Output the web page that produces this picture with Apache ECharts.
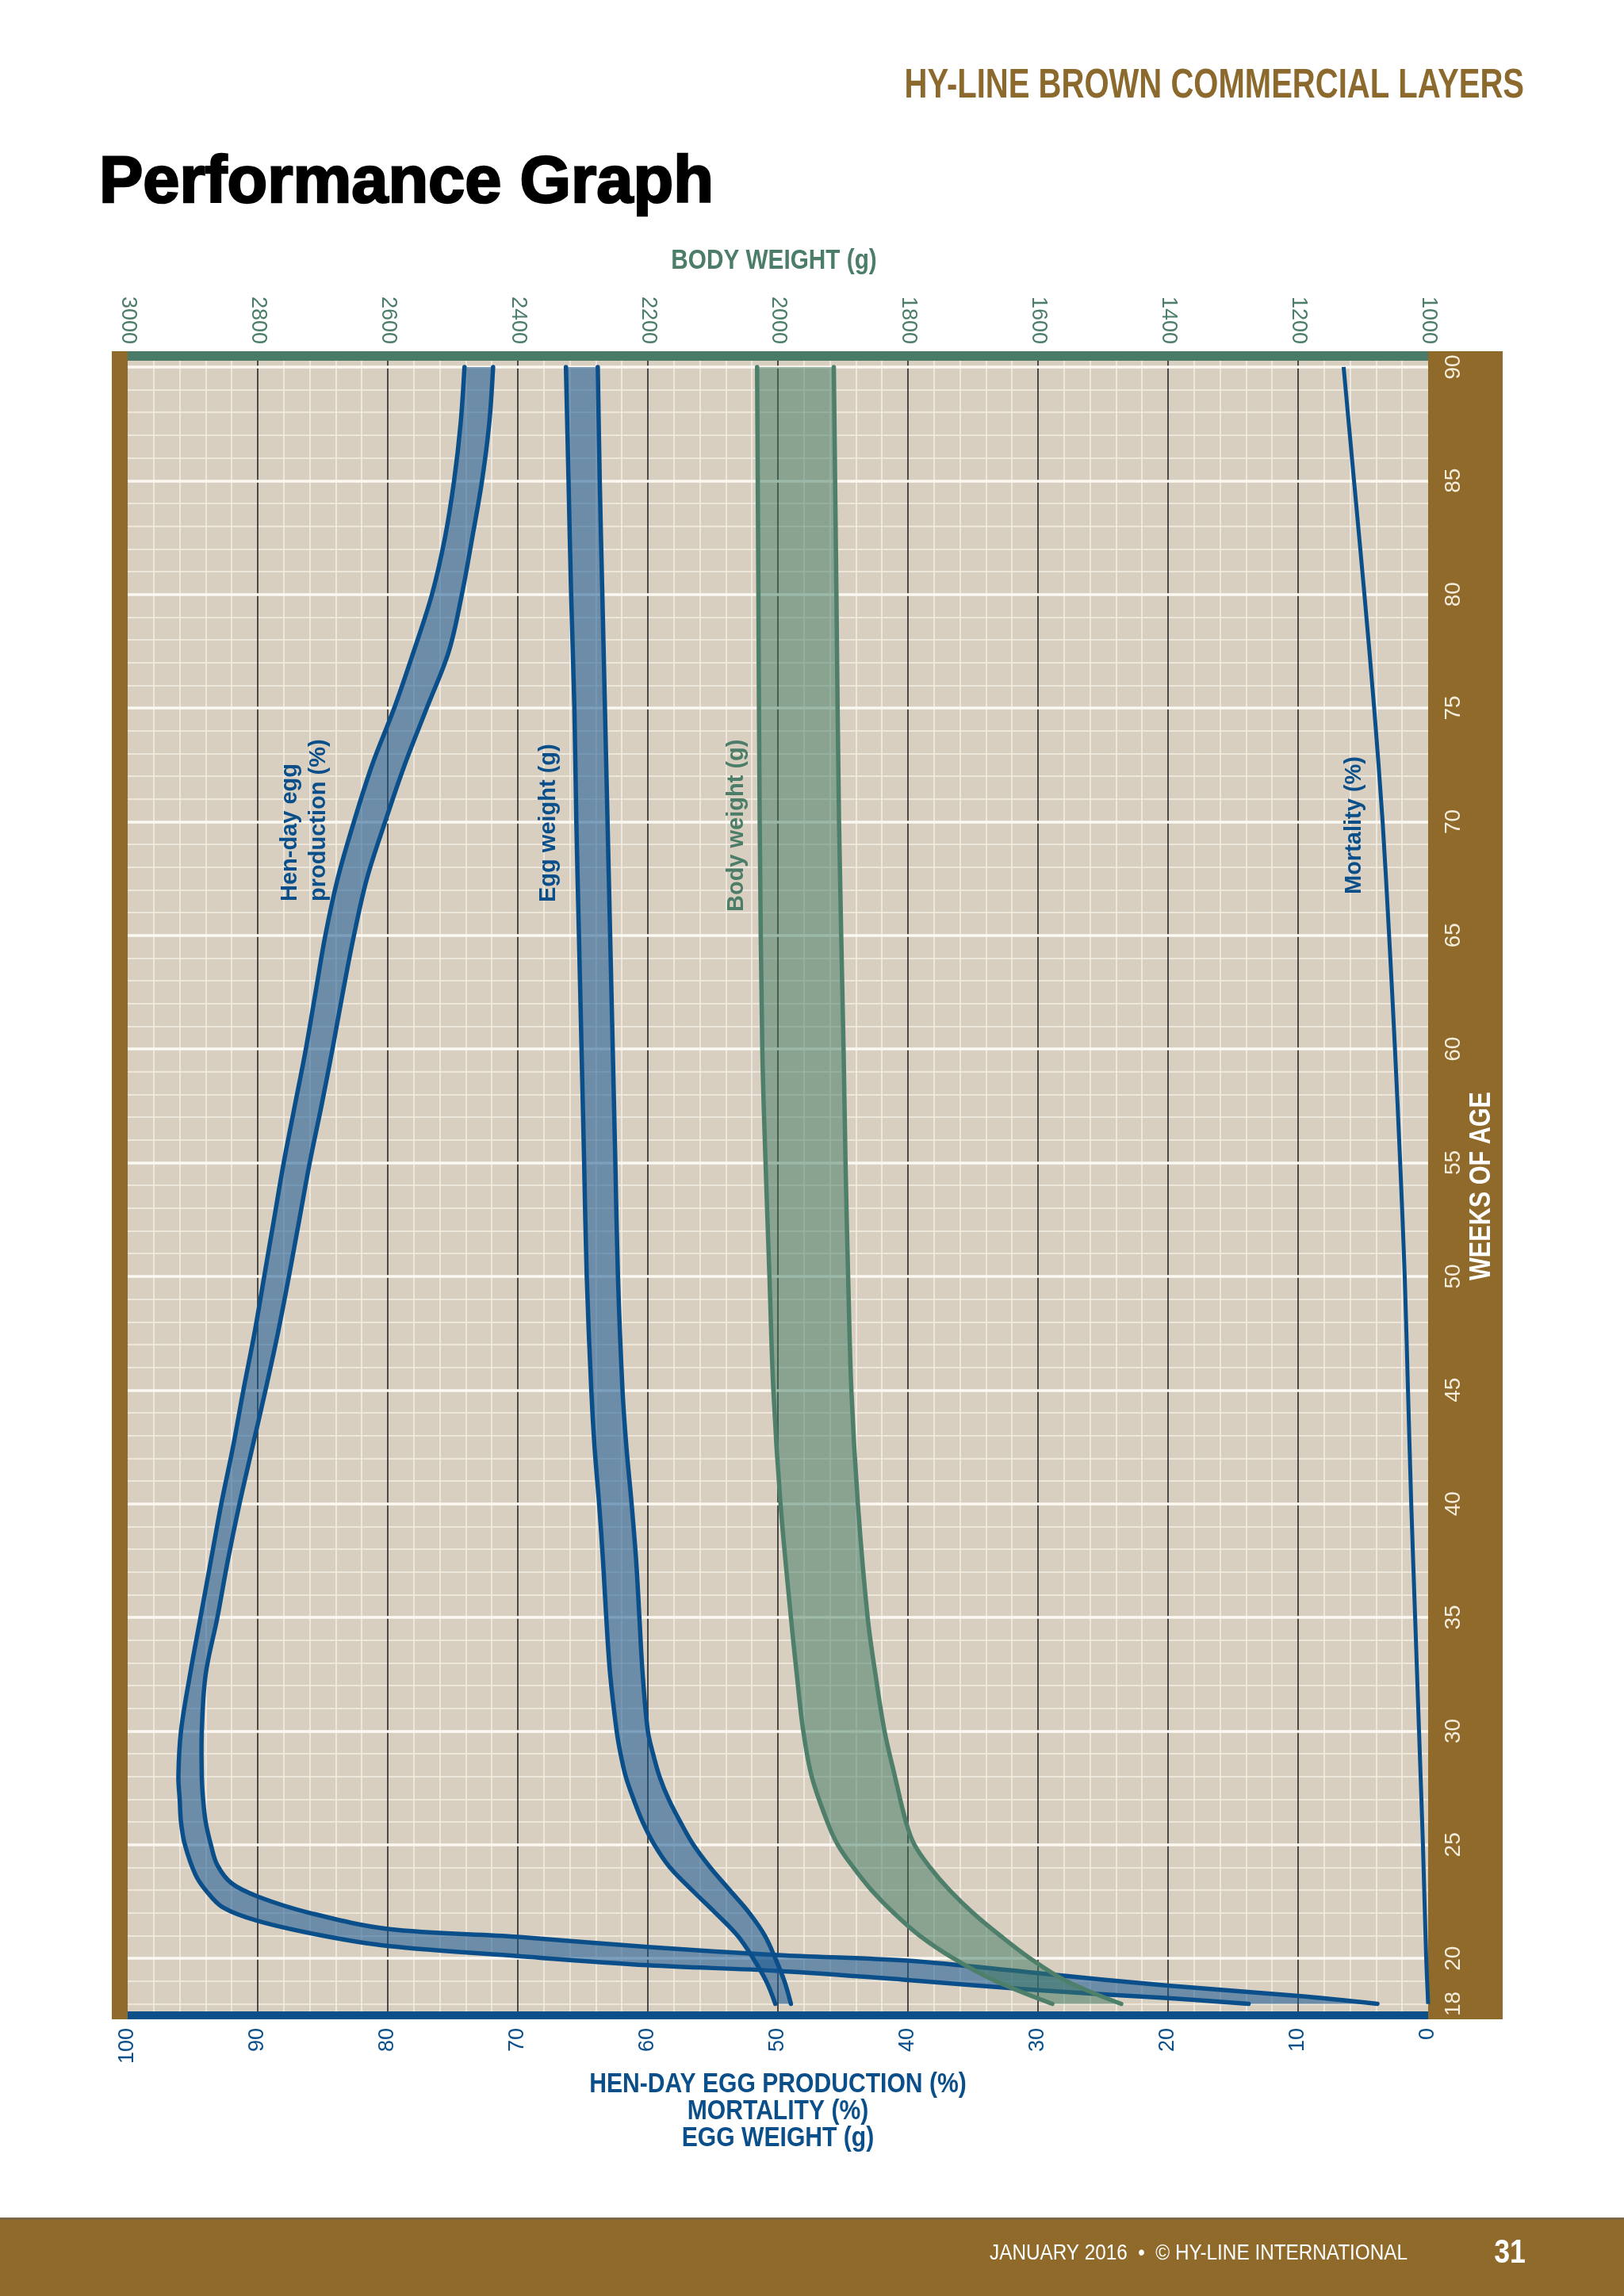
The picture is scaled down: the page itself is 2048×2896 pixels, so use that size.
<!DOCTYPE html>
<html><head><meta charset="utf-8">
<script src="https://cdn.jsdelivr.net/npm/echarts@6/dist/echarts.min.js"></script>
<style>html,body{margin:0;padding:0;background:#fff}#c{width:2048px;height:2896px}</style>
</head><body><div id="c"></div>
<script>
// ---- tick labels ----
const pctTicks = [0,10,20,30,40,50,60,70,80,90,100];
const bwTicks = [1000,1200,1400,1600,1800,2000,2200,2400,2600,2800,3000];
const weekLabels = [18,20,25,30,35,40,45,50,55,60,65,70,75,80,85,90];
const weekMajor = [20,25,30,35,40,45,50,55,60,65,70,75,80,85,90];
const weekMinor = [18,19,20,21,22,23,24,25,26,27,28,29,30,31,32,33,34,35,36,37,38,39,40,41,42,43,44,45,46,47,48,49,50,51,52,53,54,55,56,57,58,59,60,61,62,63,64,65,66,67,68,69,70,71,72,73,74,75,76,77,78,79,80,81,82,83,84,85,86,87,88,89,90];

// ---- Hen-day egg production (%) band ----
const hdpHighWeeks = [18.0,18.25,18.6,19.05,19.45,19.7,20.1,20.55,21.0,21.65,22.25,23.0,23.7,25.0,26.0,27.0,28.0,30.0,32.5,35.0,37.5,40.0,42.5,45.0,47.5,50.0,52.5,55.0,57.5,60.0,62.5,65.0,67.5,70.0,72.5,75.0,77.5,80.0,82.5,85.0,87.5,90.0];
const hdpHigh      = [13.8,20,30,40,50,60,70,80,85.0,90.0,92.7,94.0,94.8,95.6,95.9,96.0,96.1,95.9,95.2,94.4,93.6,92.8,91.9,91.1,90.25,89.5,88.75,88.0,87.15,86.3,85.55,84.8,83.85,82.6,81.2,79.5,78.0,76.6,75.6,74.9,74.4,74.1];
const hdpLowWeeks  = [18.0,18.35,18.8,19.35,19.9,20.15,20.5,20.95,21.3,22.0,22.7,23.3,24.1,25.0,26.0,27.0,28.0,30.0,32.5,35.0,37.5,40.0,42.5,45.0,47.5,50.0,52.5,55.0,57.5,60.0,62.5,65.0,67.5,70.0,72.5,75.0,77.5,80.0,82.5,85.0,87.5,90.0];
const hdpLow       = [3.9,10,20,30,40,50,60,70,80,86.0,89.9,92.0,93.1,93.6,94.0,94.2,94.3,94.3,94.0,93.1,92.3,91.4,90.4,89.4,88.45,87.6,86.8,86.0,85.1,84.25,83.45,82.6,81.6,80.2,78.7,77.0,75.3,74.3,73.5,72.75,72.2,71.9];

// ---- Egg weight (g) band ----
const ewWeeks = [18,19,20,21,22,23,24,25,26,27,28,29,30,32.5,35,37.5,40,42.5,45,50,55,60,65,70,75,80,85,90];
const ewHigh  = [50.2,50.9,51.9,53.1,54.8,56.6,58.3,59.5,60.4,61.1,61.7,62.1,62.4,62.9,63.2,63.45,63.75,64.1,64.35,64.7,64.9,65.1,65.3,65.5,65.65,65.9,66.1,66.3];
const ewLow   = [49.0,49.5,50.2,51.0,52.2,53.7,55.2,56.5,57.5,58.4,59.1,59.6,60.0,60.4,60.65,60.9,61.25,61.65,61.95,62.3,62.5,62.7,62.9,63.1,63.3,63.5,63.7,63.85];

// ---- Body weight (g) band ----
const bwWeeks = [18,19,20,21,22,23,24,25,26,28,30,32.5,35,40,45,50,55,60,70,80,90];
const bwHigh  = [1578,1665,1730,1782,1822,1856,1884,1908,1924,1948,1961,1971,1980,1996,2007,2013,2019,2024,2028,2030,2032];
const bwLow   = [1472,1556,1612,1658,1700,1736,1766,1790,1803,1820,1836,1850,1862,1877,1887,1892,1896,1899,1906,1910,1914];

// ---- Mortality (%) ----
const mortWeeks = [18,20,25,30,35,40,45,50,55,60,65,70,75,80,85,90];
const mort      = [0,0.15,0.4,0.7,1.0,1.3,1.55,1.8,2.15,2.55,3.0,3.5,4.15,4.9,5.7,6.5];

// ---- styles ----
const BLUE = '#0b4f8a', GREEN = '#4b7d68', BROWN = '#8f6a2b', BEIGE = '#d8cfc0';
const NARROW = '"Liberation Sans Narrow", "Liberation Sans", Arial, sans-serif';
const SANS = '"Liberation Sans", Arial, sans-serif';

function zip(vals, weeks){ return vals.map((v,i)=>[v, weeks[i]]); }

function band(name, xIdx, hiV, hiW, loV, loW, stroke, fill){
  const hi = zip(hiV, hiW), lo = zip(loV, loW);
  const S = 0.35;
  return {
    type:'custom', name, xAxisIndex:xIdx, yAxisIndex:0, z:2,
    data: hi, encode:{x:0, y:1}, silent:true,
    renderItem(params, api){
      if (params.dataIndex !== 0) return null;
      const a = hi.map(p=>api.coord(p));
      const b = lo.map(p=>api.coord(p));
      const br = b.slice().reverse();
      // duplicate corner points so the smoothed outline keeps sharp band ends
      const poly = [a[0]].concat(a, [a[a.length-1]], [br[0]], br, [br[br.length-1]]);
      return {type:'group', children:[
        {type:'polygon', shape:{points:poly, smooth:S}, style:{fill:fill, stroke:'none'}},
        {type:'polyline', shape:{points:a, smooth:S}, style:{fill:'none', stroke:stroke, lineWidth:5.5, lineCap:'round', lineJoin:'round'}},
        {type:'polyline', shape:{points:b, smooth:S}, style:{fill:'none', stroke:stroke, lineWidth:5.5, lineCap:'round', lineJoin:'round'}}
      ]};
    }
  };
}

const chart = echarts.init(document.getElementById('c'), null, {renderer:'canvas', width:2048, height:2896});

const option = {
  animation:false,
  backgroundColor:'#ffffff',
  grid:{left:161, right:247, top:454, bottom:359, show:true, backgroundColor:BEIGE, borderWidth:0, containLabel:false},
  xAxis:[
    {type:'value', position:'bottom', min:0, max:100, interval:10, inverse:true, offset:5,
     axisLine:{show:true, lineStyle:{color:BLUE, width:10}},
     axisTick:{show:false},
     axisLabel:{show:true, rotate:90, margin:16, color:BLUE, fontSize:27, fontFamily:SANS, showMinLabel:true, showMaxLabel:true, hideOverlap:false,
       formatter:(v)=> pctTicks.indexOf(v)>=0 ? String(v) : ''},
     splitLine:{show:true, showMinLine:false, showMaxLine:false, lineStyle:{color:'#1c1c1c', width:1.5}},
     minorTick:{show:false, splitNumber:5},
     minorSplitLine:{show:true, lineStyle:{color:'#f3eee5', width:1.6}}
    },
    {type:'value', position:'top', min:1000, max:3000, interval:200, inverse:true, offset:5,
     axisLine:{show:true, lineStyle:{color:'#4a7b69', width:12}},
     axisTick:{show:false},
     axisLabel:{show:true, rotate:90, margin:15, color:GREEN, fontSize:27, fontFamily:SANS, showMinLabel:true, showMaxLabel:true, hideOverlap:false,
       formatter:(v)=> bwTicks.indexOf(v)>=0 ? String(v) : ''},
     splitLine:{show:false}
    }
  ],
  yAxis:[
    {type:'value', position:'right', min:17.67, max:90.31,
     axisLine:{show:false}, axisTick:{show:false, customValues:weekMinor},
     axisLabel:{show:false},
     splitLine:{show:true, lineStyle:{color:'#f3eee5', width:1.6}}
    },
    {type:'value', position:'right', min:17.67, max:90.31, z:1.5,
     axisLine:{show:false}, axisTick:{show:false, customValues:weekMajor},
     axisLabel:{show:true, customValues:weekLabels, rotate:90, margin:18, color:'#f5eddc', fontSize:28, fontFamily:NARROW, hideOverlap:false},
     splitLine:{show:true, lineStyle:{color:'#fbf8f2', width:3.6}}
    }
  ],
  series:[
    band('Hen-day egg production (%)', 0, hdpHigh, hdpHighWeeks, hdpLow, hdpLowWeeks, BLUE, 'rgba(20,85,145,0.55)'),
    band('Egg weight (g)', 0, ewHigh, ewWeeks, ewLow, ewWeeks, BLUE, 'rgba(20,85,145,0.55)'),
    band('Body weight (g)', 1, bwHigh, bwWeeks, bwLow, bwWeeks, '#4e7f6a', 'rgba(60,120,95,0.5)'),
    {type:'line', name:'Mortality (%)', xAxisIndex:0, yAxisIndex:0, data:zip(mort, mortWeeks), smooth:0.3,
     showSymbol:false, symbol:'none', silent:true, z:3, lineStyle:{color:BLUE, width:5}}
  ],
  graphic:[
    // frame bands
    {type:'rect', z:1, silent:true, shape:{x:141, y:443, width:20, height:2104}, style:{fill:BROWN}},
    {type:'rect', z:1, silent:true, shape:{x:1801, y:443, width:94, height:2104}, style:{fill:BROWN}},
    // footer
    {type:'rect', z:1, silent:true, shape:{x:0, y:2797, width:2048, height:4}, style:{fill:'#7d6642'}},
    {type:'rect', z:1, silent:true, shape:{x:0, y:2800, width:2048, height:96}, style:{fill:BROWN}},
    {type:'text', z:5, x:1775, y:2843, scaleX:0.9, style:{text:'JANUARY 2016  \u2022  \u00A9 HY-LINE INTERNATIONAL', fill:'#ffffff', font:'27px '+NARROW, align:'right', verticalAlign:'middle'}},
    {type:'text', z:5, x:1904, y:2842, scaleX:0.85, style:{text:'31', fill:'#ffffff', font:'bold 42px '+NARROW, align:'center', verticalAlign:'middle'}},
    // header & title
    {type:'text', z:5, x:1922, y:109, scaleX:0.785, style:{text:'HY-LINE BROWN COMMERCIAL LAYERS', fill:'#8c6a2e', font:'bold 51px '+NARROW, align:'right', verticalAlign:'middle'}},
    {type:'text', z:5, x:125, y:232, style:{text:'Performance Graph', fill:'#000000', stroke:'#000000', lineWidth:2.5, font:'bold 83px '+SANS, align:'left', verticalAlign:'middle'}},
    // axis titles
    {type:'text', z:5, x:976, y:329, scaleX:0.85, style:{text:'BODY WEIGHT (g)', fill:GREEN, font:'bold 35px '+NARROW, align:'center', verticalAlign:'middle'}},
    {type:'text', z:5, x:981, y:2629, scaleX:0.86, style:{text:'HEN-DAY EGG PRODUCTION (%)', fill:BLUE, font:'bold 35px '+NARROW, align:'center', verticalAlign:'middle'}},
    {type:'text', z:5, x:981, y:2663, scaleX:0.86, style:{text:'MORTALITY (%)', fill:BLUE, font:'bold 35px '+NARROW, align:'center', verticalAlign:'middle'}},
    {type:'text', z:5, x:981, y:2697, scaleX:0.86, style:{text:'EGG WEIGHT (g)', fill:BLUE, font:'bold 35px '+NARROW, align:'center', verticalAlign:'middle'}},
    {type:'text', z:5, x:1869, y:1496, rotation:Math.PI/2, scaleX:0.85, style:{text:'WEEKS OF AGE', fill:'#ffffff', font:'bold 36px '+NARROW, align:'center', verticalAlign:'middle'}},
    // series labels
    {type:'text', z:5, x:384, y:1137, rotation:Math.PI/2, style:{text:'Hen-day egg\nproduction (%)', fill:BLUE, font:'bold 29px '+SANS, lineHeight:36, align:'left', verticalAlign:'middle'}},
    {type:'text', z:5, x:692, y:1138, rotation:Math.PI/2, style:{text:'Egg weight (g)', fill:BLUE, font:'bold 29px '+SANS, align:'left', verticalAlign:'middle'}},
    {type:'text', z:5, x:929, y:1150, rotation:Math.PI/2, style:{text:'Body weight (g)', fill:GREEN, font:'bold 29px '+SANS, align:'left', verticalAlign:'middle'}},
    {type:'text', z:5, x:1708, y:1128, rotation:Math.PI/2, style:{text:'Mortality (%)', fill:BLUE, font:'bold 29px '+SANS, align:'left', verticalAlign:'middle'}}
  ]
};
chart.setOption(option);
</script>
</body></html>
